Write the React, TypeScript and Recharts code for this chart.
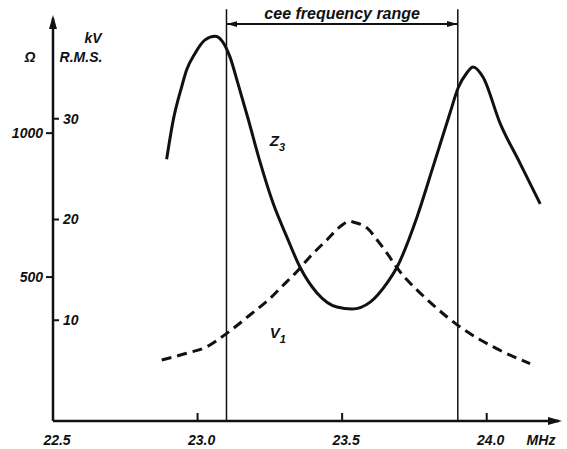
import {
  LineChart,
  Line,
  XAxis,
  YAxis,
  ReferenceLine,
  ReferenceDot,
} from "recharts";

// frequency axis (MHz)
const FREQ_TICKS = [22.5, 23.0, 23.5, 24.0];
const FREQ_DOMAIN = [22.5, 24.25];
// impedance axis (ohm) and voltage axis (kV r.m.s.)
const OHM_TICKS = [500, 1000];
const OHM_DOMAIN = [0, 1400];
const KV_TICKS = [10, 20, 30];
const KV_DOMAIN = [0, 40];
// band edges of the frequency range
const RANGE = [23.1, 23.9];
const RANGE_LABEL = "cee frequency range";

// Z3 — impedance
const Z3_FREQ = [
  22.893, 22.916, 22.945, 22.962, 22.991, 23.026, 23.06, 23.085, 23.112, 23.14,
  23.175, 23.216, 23.261, 23.309, 23.354, 23.413, 23.482, 23.534, 23.597,
  23.655, 23.69, 23.759, 23.814, 23.873, 23.901, 23.931, 23.953, 23.987,
  24.046, 24.115, 24.185,
];
const Z3_OHM = [
  909, 1046, 1161, 1219, 1277, 1324, 1337, 1320, 1265, 1171, 1049, 900, 757,
  639, 535, 445, 396, 389, 413, 479, 535, 709, 882, 1070, 1157, 1209, 1230,
  1195, 1035, 896, 754,
];

// V1 — voltage
const V1_FREQ = [
  22.876, 22.962, 23.032, 23.101, 23.181, 23.251, 23.297, 23.343, 23.389,
  23.447, 23.493, 23.527, 23.538, 23.586, 23.621, 23.655, 23.69, 23.725, 23.77,
  23.815, 23.863, 23.908, 24.023, 24.15,
];
const V1_KV = [
  6.05, 6.72, 7.37, 8.7, 10.52, 12.18, 13.5, 14.82, 16.31, 17.97, 19.29, 19.85,
  19.75, 19.16, 17.97, 16.67, 15.19, 13.99, 12.7, 11.51, 10.32, 9.33, 7.35,
  5.69,
];

const z3 = Z3_FREQ.map((f, i) => ({ f, v: Z3_OHM[i] }));
const v1 = V1_FREQ.map((f, i) => ({ f, v: V1_KV[i] }));

const INK = "#111";
const FONT = "'Liberation Sans', Arial, sans-serif";
const tickFont = {
  fontSize: 14,
  fontStyle: "italic",
  fontWeight: "bold",
  fontFamily: FONT,
  fill: INK,
};

function FreqTick({ x, y, payload }: any) {
  return (
    <g>
      <line x1={x} y1={y} x2={x} y2={y - 8} stroke={INK} strokeWidth={2} />
      <text x={x + 4} y={y + 24} textAnchor="middle" {...tickFont}>
        {Number(payload.value).toFixed(1)}
      </text>
    </g>
  );
}

// axis titles, placed relative to the axis box
const axisTitle =
  (lines: { text: string; dx: number; dy: number }[]) => (props: any) => {
    const vb = props.viewBox || { x: 0, y: 0 };
    return (
      <g>
        {lines.map((l) => (
          <text
            key={l.text}
            x={vb.x + l.dx}
            y={vb.y + l.dy}
            textAnchor="middle"
            {...tickFont}
          >
            {l.text}
          </text>
        ))}
      </g>
    );
  };

const subLabel = (main: string, sub: string) => (p: any) => (
  <text x={p.cx} y={p.cy} {...tickFont} fontSize={15}>
    {main}
    <tspan dy={5} fontSize={11}>
      {sub}
    </tspan>
  </text>
);

export default function App() {
  return (
    <div
      style={{
        position: "absolute",
        left: 0,
        top: 0,
        width: 567,
        height: 449,
        background: "#fff",
      }}
    >
      <LineChart
        width={567}
        height={449}
        margin={{ top: 18, right: 8, bottom: 0, left: 0 }}
      >
        <defs>
          <marker
            id="axisArrow"
            viewBox="0 0 14 8"
            markerUnits="userSpaceOnUse"
            markerWidth={14}
            markerHeight={8}
            refX={11}
            refY={4}
            orient="auto-start-reverse"
          >
            <path d="M0,0 L14,4 L0,8 Z" fill={INK} />
          </marker>
          <marker
            id="rangeArrow"
            viewBox="0 0 11 6"
            markerUnits="userSpaceOnUse"
            markerWidth={11}
            markerHeight={6}
            refX={11}
            refY={3}
            orient="auto-start-reverse"
          >
            <path d="M0,0 L11,3 L0,6 Z" fill={INK} />
          </marker>
        </defs>

        <XAxis
          type="number"
          dataKey="f"
          domain={FREQ_DOMAIN}
          ticks={FREQ_TICKS}
          allowDataOverflow
          height={28}
          tickLine={false}
          tickSize={0}
          tickMargin={0}
          tick={FreqTick}
          axisLine={{
            stroke: INK,
            strokeWidth: 2.5,
            markerEnd: "url(#axisArrow)",
          }}
          label={axisTitle([{ text: "MHz", dx: 488, dy: 24 }])}
        />
        <YAxis
          yAxisId="ohm"
          orientation="left"
          width={53}
          domain={OHM_DOMAIN}
          ticks={OHM_TICKS}
          allowDataOverflow
          tickSize={7}
          tickMargin={3}
          tickLine={{ stroke: INK, strokeWidth: 2 }}
          tick={tickFont}
          axisLine={{
            stroke: INK,
            strokeWidth: 2.5,
            markerStart: "url(#axisArrow)",
          }}
          label={axisTitle([{ text: "Ω", dx: 30, dy: 44 }])}
        />
        {/* kV scale: mirrored, ticks to the right of the same vertical axis */}
        <YAxis
          yAxisId="kv"
          orientation="left"
          mirror
          width={60}
          domain={KV_DOMAIN}
          ticks={KV_TICKS}
          allowDataOverflow
          axisLine={false}
          tickSize={6}
          tickMargin={4}
          tickLine={{ stroke: INK, strokeWidth: 2 }}
          tick={tickFont}
          label={axisTitle([
            { text: "kV", dx: 40, dy: 25 },
            { text: "R.M.S.", dx: 28, dy: 44 },
          ])}
        />

        {RANGE.map((f) => (
          <ReferenceLine
            key={f}
            yAxisId="ohm"
            segment={[
              { x: f, y: 0 },
              { x: f, y: 1430 },
            ]}
            ifOverflow="visible"
            stroke={INK}
            strokeWidth={1.5}
          />
        ))}
        <ReferenceLine
          yAxisId="ohm"
          segment={[
            { x: RANGE[0], y: 1379 },
            { x: RANGE[1], y: 1379 },
          ]}
          ifOverflow="visible"
          shape={(p: any) => (
            <line
              x1={p.x1}
              y1={p.y1}
              x2={p.x2}
              y2={p.y2}
              stroke={INK}
              strokeWidth={2}
              markerStart="url(#rangeArrow)"
              markerEnd="url(#rangeArrow)"
            />
          )}
          label={{
            value: RANGE_LABEL,
            position: "top",
            offset: 5,
            ...tickFont,
            fontSize: 16,
          }}
        />

        <Line
          yAxisId="ohm"
          data={z3}
          dataKey="v"
          type="monotone"
          stroke={INK}
          strokeWidth={3}
          dot={false}
          isAnimationActive={false}
        />
        <Line
          yAxisId="kv"
          data={v1}
          dataKey="v"
          type="monotone"
          stroke={INK}
          strokeWidth={3}
          strokeDasharray="10 6"
          dot={false}
          isAnimationActive={false}
        />

        <ReferenceDot
          yAxisId="ohm"
          x={23.25}
          y={955}
          r={0}
          ifOverflow="visible"
          shape={subLabel("Z", "3")}
        />
        <ReferenceDot
          yAxisId="ohm"
          x={23.25}
          y={288}
          r={0}
          ifOverflow="visible"
          shape={subLabel("V", "1")}
        />
      </LineChart>
    </div>
  );
}
